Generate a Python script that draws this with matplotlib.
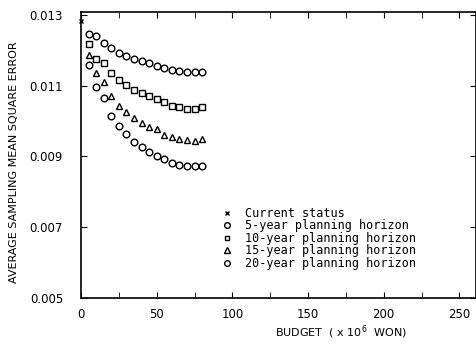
import matplotlib
matplotlib.use('Agg')
import matplotlib.pyplot as plt
import numpy as np

# budget levels (x 10^6 won)
budget = [5, 10, 15, 20, 25, 30, 35, 40, 45, 50, 55, 60, 65, 70, 75, 80]

current_x = [0]
current_y = [0.01283]

mse_5yr = [0.01246, 0.01241, 0.01221, 0.01207, 0.01193, 0.01184, 0.01176, 0.01170,
           0.01164, 0.01156, 0.01150, 0.01145, 0.01142, 0.01139, 0.01139, 0.01139]
mse_10yr = [0.01218, 0.01176, 0.01164, 0.01136, 0.01116, 0.01102, 0.01088, 0.01080,
            0.01071, 0.01063, 0.01054, 0.01043, 0.01040, 0.01034, 0.01034, 0.01040]
mse_15yr = [0.01187, 0.01136, 0.01111, 0.01071, 0.01043, 0.01026, 0.01009, 0.00995,
            0.00984, 0.00978, 0.00961, 0.00955, 0.00950, 0.00947, 0.00944, 0.00950]
mse_20yr = [0.01159, 0.01097, 0.01066, 0.01015, 0.00986, 0.00964, 0.00941, 0.00927,
            0.00913, 0.00902, 0.00893, 0.00882, 0.00876, 0.00873, 0.00873, 0.00873]

x_ticks = [0, 50, 100, 150, 200, 250]
x_ticklabels = ['0', '50', '100', '150', '200', '250']
y_ticks = [0.005, 0.007, 0.009, 0.011, 0.013]
y_ticklabels = ['0.005', '0.007', '0.009', '0.011', '0.013']

fig = plt.figure(figsize=(4.77, 3.48), dpi=100)
ax = fig.add_axes([0.170, 0.1437, 0.828, 0.8218])

mk = dict(linestyle='none', color='black', markerfacecolor='none', markeredgewidth=1.0)
ax.plot(current_x, current_y, marker='x', markersize=3.5, label='Current status',
        clip_on=False, **mk)
ax.plot(budget, mse_5yr, marker='o', markersize=4.8, label='5-year planning horizon', **mk)
ax.plot(budget, mse_10yr, marker='s', markersize=4.0, label='10-year planning horizon', **mk)
ax.plot(budget, mse_15yr, marker='^', markersize=4.3, label='15-year planning horizon', **mk)
ax.plot(budget, mse_20yr, marker='o', markersize=4.8, label='20-year planning horizon', **mk)

ax.set_xlim(0, 261)
ax.set_ylim(0.005, 0.01308)
ax.set_xticks(x_ticks)
ax.set_xticklabels(x_ticklabels, fontsize=8.5)
ax.set_xticks(np.arange(25, 251, 50), minor=True)
ax.set_yticks(y_ticks)
ax.set_yticklabels(y_ticklabels, fontsize=8.5)
ax.tick_params(direction='in', top=True, right=True, which='both', length=4)
ax.tick_params(axis='x', pad=7)
ax.tick_params(axis='y', pad=13)

ax.set_xlabel('BUDGET  ( x 10$^6$  WON)', fontsize=8)
ax.xaxis.set_label_coords(0.658, -0.09)
ax.set_ylabel('AVERAGE SAMPLING MEAN SQUARE ERROR', fontsize=8)
ax.yaxis.set_label_coords(-0.158, 0.475)

leg = ax.legend(loc='upper left', bbox_to_anchor=(0.354, 0.318), frameon=False,
                prop={'family': 'DejaVu Sans Mono', 'size': 8.5},
                borderaxespad=0, borderpad=0, handletextpad=1.0,
                labelspacing=-0.05, handlelength=1.0, markerscale=0.85)

for s in ax.spines.values():
    s.set_linewidth(1.2)

fig.savefig('out.png', dpi=100)
